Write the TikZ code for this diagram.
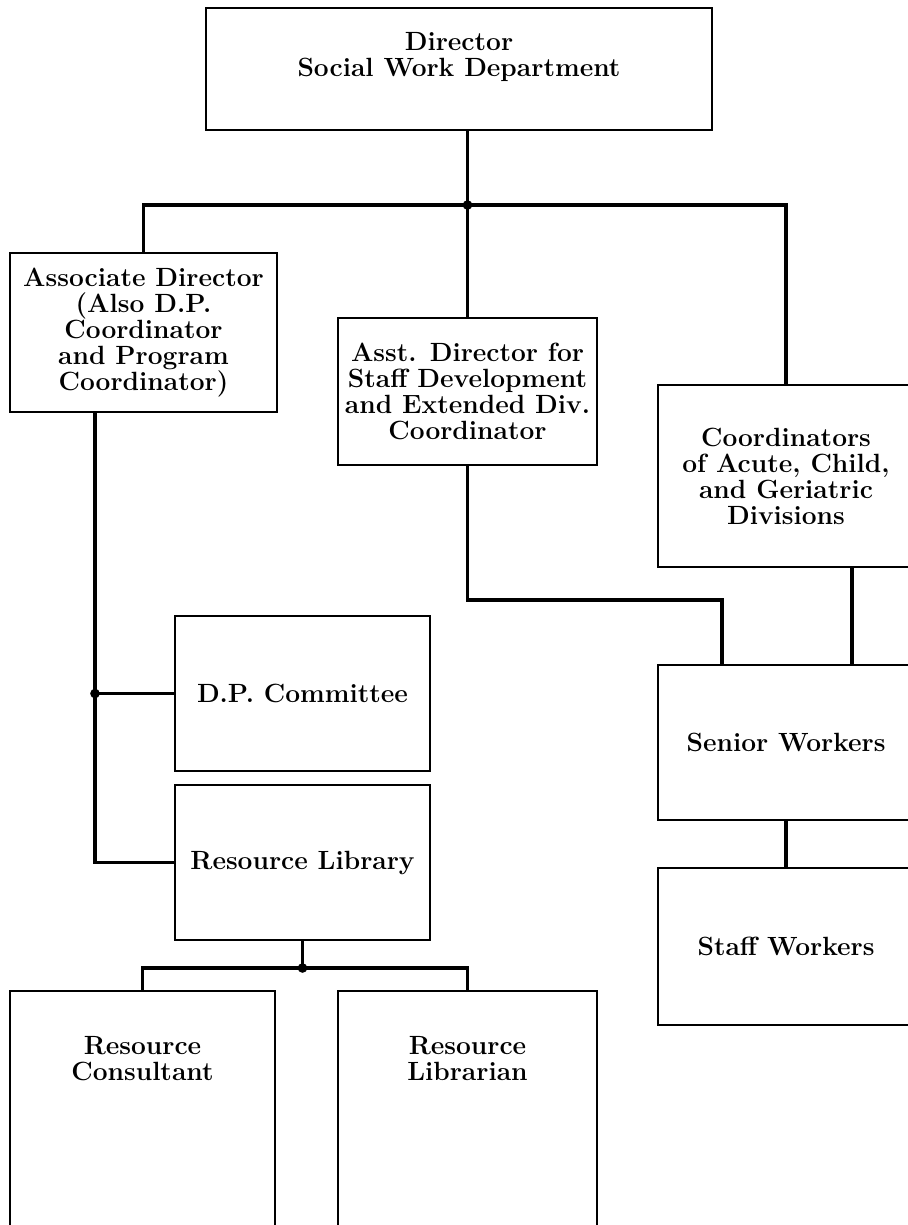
\documentclass[tikz,border=0pt]{standalone}
\usepackage{tikz}
\usetikzlibrary{positioning}

\begin{document}
\begin{tikzpicture}[
  x=0.02cm,y=-0.02cm,
  font=\fontsize{15}{14.8}\selectfont\bfseries,
  unit/.style={draw,line width=1.3pt,align=center,inner sep=2pt},
  link/.style={line width=1.8pt},
  joint/.style={circle,fill,inner sep=0pt,minimum size=5.5pt}
]
\clip (0,0) rectangle (908,1225);

% top of the chart
\node[unit,minimum width=10.12cm,minimum height=2.44cm,text depth=17pt] (dir) at (459,69)
  {Director\\Social Work Department};

\node[unit,minimum width=5.34cm,minimum height=3.18cm] (assoc) at (143.5,332.5)
  {Associate Director\\(Also D.P.\\Coordinator\\and Program\\Coordinator)};
\node[unit,minimum width=5.18cm,minimum height=2.94cm] (asst) at (467.5,391.5)
  {Asst. Director for\\Staff Development\\and Extended Div.\\Coordinator};
\node[unit,minimum width=5.12cm,minimum height=3.64cm] (coord) at (786,476)
  {Coordinators\\of Acute, Child,\\and Geriatric\\Divisions};

% left column
\node[unit,minimum width=5.1cm,minimum height=3.1cm] (dp) at (302.5,693.5)
  {D.P. Committee};
\node[unit,minimum width=5.1cm,minimum height=3.1cm] (lib) at (302.5,862.5)
  {Resource Library};

% right column
\node[unit,minimum width=5.12cm,minimum height=3.1cm] (senior) at (786,742.5)
  {Senior Workers};
\node[unit,minimum width=5.12cm,minimum height=3.14cm] (staff) at (786,946.5)
  {Staff Workers};

% bottom row, cut off by the page
\node[unit,anchor=north,minimum width=5.3cm,minimum height=6cm,
      label={[name=consT,align=center,anchor=north,yshift=-0.8cm]north:Resource\\Consultant}]
  (cons) at (142.5,990) {};
\node[unit,anchor=north,minimum width=5.18cm,minimum height=6cm,
      label={[name=librT,align=center,anchor=north,yshift=-0.8cm]north:Resource\\Librarian}]
  (libr) at (467.5,990) {};

% junctions
\coordinate (hub) at (467.5,205);
\coordinate (lj) at (95,693.5);
\coordinate (mj) at (722,600);
\coordinate (rj) at (852,620);
\coordinate (bj) at (302.5,968);

\draw[link] (dir.south -| hub) -- (hub);
\draw[link] (assoc.north) |- (hub) -| (coord.north);
\draw[link] (hub) -- (asst.north);
\draw[link] (assoc.south -| lj) |- (lib.west);
\draw[link] (lj) -- (dp.west);
\draw[link] (asst.south) |- (mj) -- (senior.north -| mj);
\draw[link] (coord.south -| rj) -- (senior.north -| rj);
\draw[link] (senior) -- (staff);
\draw[link] (lib.south) -- (bj);
\draw[link] (cons.north) |- (bj) -| (libr.north);

\node[joint] (hubdot) at (hub) {};
\node[joint] (ljdot) at (lj) {};
\node[joint] (bjdot) at (bj) {};
\end{tikzpicture}
\end{document}
